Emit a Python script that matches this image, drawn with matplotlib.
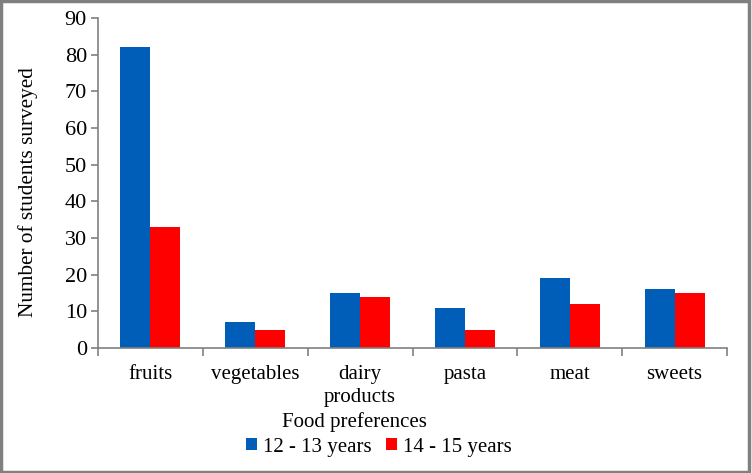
import matplotlib
matplotlib.use("Agg")
import matplotlib.pyplot as plt
import numpy as np
from matplotlib.patches import Rectangle

categories = ["fruits", "vegetables", "dairy\nproducts", "pasta", "meat", "sweets"]
series_names = ["12 - 13 years", "14 - 15 years"]
values_12_13 = [82, 7, 15, 11, 19, 16]
values_14_15 = [33, 5, 14, 5, 12, 15]
yticks = [0, 10, 20, 30, 40, 50, 60, 70, 80, 90]

plt.rcParams['font.family'] = ['Liberation Serif', 'DejaVu Serif']

W, H = 752, 473
fig = plt.figure(figsize=(W/100, H/100), dpi=100)
ax = fig.add_axes([98/W, 1-348/H, (727-98)/W, (348-18)/H])

blue = "#005EB8"
red = "#FF0000"
grey = "#808080"
fs = 15
x = np.arange(len(categories))
bw = 0.286
ax.bar(x - bw/2, values_12_13, bw, color=blue, label=series_names[0])
ax.bar(x + bw/2, values_14_15, bw, color=red, label=series_names[1])

ax.set_xlim(-0.5, len(categories)-0.5)
ax.set_ylim(0, 90)
ax.set_yticks(yticks)
ax.set_yticklabels([str(v) for v in yticks], fontsize=fs+1)
ax.set_xticks(np.arange(len(categories)+1)-0.5, minor=False)
ax.set_xticklabels([])
ax.set_xticks(x, minor=True)
ax.set_xticklabels(categories, minor=True, fontsize=fs, linespacing=1.32)
ax.tick_params(axis='x', which='minor', length=0, pad=12)
ax.tick_params(axis='x', which='major', length=6, color=grey, width=1.2)
ax.tick_params(axis='y', length=5, color=grey, width=1.2, pad=3)
for s in ['top', 'right']:
    ax.spines[s].set_visible(False)
for s in ['left', 'bottom']:
    ax.spines[s].set_color(grey)
    ax.spines[s].set_linewidth(1.2)

ax.set_ylabel("Number of students surveyed", fontsize=fs+0.3)
ax.yaxis.set_label_coords((28-98)/629, (348-192)/330)
ax.yaxis.label.set_va('center')
fig.text(354/W, 1-422/H, "Food preferences", ha='center', va='center', fontsize=fs)

leg = fig.legend(loc='center', bbox_to_anchor=(379/W, 1-447/H), ncol=2, frameon=False,
                 fontsize=fs, handlelength=0.5, handleheight=0.5, handletextpad=0.3,
                 columnspacing=0.7, borderpad=0)

fig.patches.append(Rectangle((0.0015, 0.003), 0.995, 0.994, transform=fig.transFigure,
                             fill=False, edgecolor=grey, linewidth=2.5))

fig.savefig("out.png", dpi=100)
